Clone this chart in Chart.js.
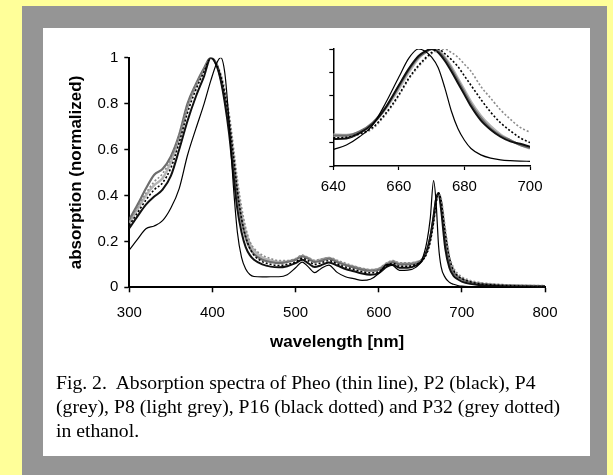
<!DOCTYPE html>
<html>
<head>
<meta charset="utf-8">
<script src="https://cdn.jsdelivr.net/npm/chart.js@4.4.1/dist/chart.umd.min.js"></script>
<style>
html, body { margin: 0; padding: 0; }
body { width: 613px; height: 475px; background: #ffff99; position: relative; overflow: hidden; }
#grey { position: absolute; left: 22px; top: 6px; width: 585px; height: 469px; background: #959595; }
#white { position: absolute; left: 43px; top: 28px; width: 547px; height: 428px; background: #ffffff; }
canvas { position: absolute; left: 0; top: 0; }
#caption { position: absolute; left: 56px; top: 370px; white-space: nowrap;
  font-family: "Liberation Serif", "Times New Roman", serif; font-size: 19.7px; line-height: 24px; color: #000; }
</style>
</head>
<body>
<div id="grey"></div>
<div id="white"></div>
<canvas id="mainChart" width="613" height="475"></canvas>
<canvas id="insetChart" width="613" height="475"></canvas>
<div id="caption">Fig. 2.&nbsp; Absorption spectra of Pheo (thin line), P2 (black), P4<br>(grey), P8 (light grey), P16 (black dotted) and P32 (grey dotted)<br>in ethanol.</div>

<script>
// main spectrum, wavelength in nm
const wavelengths = [300, 310, 320, 330, 340, 350, 360, 370, 380, 390,
  398, 405, 410, 415, 420, 425, 430, 435, 440, 445,
  450, 460, 470, 480, 490, 500, 508, 515, 523, 530,
  540, 550, 560, 570, 580, 590, 600, 610, 617, 625,
  635, 645, 652, 658, 662, 666, 669, 672, 675, 680,
  685, 690, 695, 700, 710, 720, 740, 760, 780, 800];

const pheo = [.163, .21, .255, .267, .29, .345, .43, .575, .69, .8,
  .9, .975, 1.0, .93, .72, .45, .24, .13, .08, .056,
  .047, .045, .046, .046, .055, .085, .11, .09, .064, .08,
  .097, .065, .046, .038, .03, .035, .06, .1, .095, .074,
  .075, .088, .12, .2, .3, .465, .37, .18, .09, .042,
  .022, .013, .008, .005, .003, .002, .001, 0, 0, 0];

const p2 = [.257, .31, .36, .395, .425, .485, .6, .725, .83, .92,
  1.0, .965, .9, .8, .67, .5, .34, .24, .175, .14,
  .12, .1, .09, .087, .092, .105, .12, .105, .088, .095,
  .108, .095, .08, .07, .06, .055, .062, .09, .098, .085,
  .085, .095, .115, .16, .22, .31, .385, .41, .34, .17,
  .085, .05, .035, .025, .015, .01, .006, .004, .003, .003];

const p4 = [.295, .36, .43, .49, .515, .57, .665, .8, .885, .955,
  1.0, .97, .91, .82, .7, .55, .4, .29, .215, .17,
  .145, .12, .11, .105, .11, .12, .135, .125, .11, .115,
  .125, .11, .097, .087, .077, .072, .077, .1, .11, .1,
  .1, .105, .12, .16, .215, .3, .38, .41, .36, .2,
  .105, .065, .045, .035, .022, .016, .01, .007, .006, .005];

const p8 = [.28, .34, .4, .445, .475, .545, .645, .78, .875, .95,
  1.0, .97, .915, .83, .72, .58, .43, .32, .24, .19,
  .16, .13, .117, .11, .113, .122, .137, .128, .114, .12,
  .128, .113, .1, .09, .08, .075, .08, .104, .114, .104,
  .104, .11, .12, .155, .21, .3, .38, .41, .365, .21,
  .11, .068, .048, .037, .024, .017, .011, .008, .006, .005];

const p16 = [.27, .325, .38, .425, .455, .52, .63, .76, .86, .94,
  1.0, .97, .92, .84, .73, .58, .42, .3, .22, .17,
  .14, .112, .1, .095, .1, .11, .126, .116, .1, .106,
  .116, .102, .088, .078, .068, .063, .068, .094, .104, .092,
  .092, .1, .115, .15, .2, .285, .37, .41, .38, .24,
  .13, .075, .05, .038, .024, .016, .01, .007, .005, .004];

const p32 = [.285, .35, .41, .46, .495, .56, .66, .79, .88, .95,
  1.0, .975, .93, .86, .76, .62, .47, .35, .26, .2,
  .17, .14, .125, .116, .116, .125, .14, .13, .118, .122,
  .13, .118, .105, .093, .083, .077, .082, .107, .117, .107,
  .107, .108, .12, .15, .2, .28, .36, .405, .39, .26,
  .14, .085, .06, .045, .03, .022, .014, .01, .008, .007];

// inset: Q band, normalized to its own maximum
const insetWavelengths = [640, 644, 648, 652, 656, 660, 663, 666, 668, 670, 672,
  674, 676, 678, 680, 682, 685, 688, 691, 694, 697, 700];
const insetPheo = [.14, .18, .25, .35, .54, .76, .92, 1.0, .98, .93, .84,
  .67, .47, .32, .22, .15, .095, .067, .053, .046, .042, .04];
const insetP2 = [.23, .235, .28, .36, .5, .69, .83, .94, .98, 1.0, .97,
  .9, .81, .71, .61, .51, .39, .31, .25, .21, .19, .165];
const insetP4 = [.26, .26, .295, .37, .5, .68, .82, .93, .97, 1.0, .98,
  .92, .83, .73, .63, .53, .41, .32, .26, .22, .18, .155];
const insetP8 = [.27, .265, .29, .36, .49, .66, .8, .92, .97, 1.0, .99,
  .93, .85, .75, .65, .55, .43, .34, .27, .22, .18, .15];
const insetP16 = [.24, .245, .275, .33, .45, .61, .75, .86, .92, .97, 1.0,
  .96, .91, .85, .77, .69, .57, .46, .37, .3, .24, .2];
const insetP32 = [.25, .25, .27, .32, .44, .6, .74, .85, .91, .96, .99,
  1.0, .97, .93, .87, .81, .68, .58, .48, .4, .33, .29];

const xTicks = [300, 400, 500, 600, 700, 800];
const insetXTicks = [640, 660, 680, 700];

// looks of each sample (first one is drawn on top)
const styles = [
  { label: 'Pheo', color: '#000000', width: 1.2, dash: [] },
  { label: 'P16', color: '#000000', width: 1.6, dash: [2, 2] },
  { label: 'P32', color: '#8c8c8c', width: 1.6, dash: [2, 2] },
  { label: 'P2', color: '#111111', width: 2, dash: [] },
  { label: 'P4', color: '#6e6e6e', width: 2.2, dash: [] },
  { label: 'P8', color: '#b4b4b4', width: 2.4, dash: [] }
];

function toPoints(xs, ys) {
  return xs.map((x, i) => ({ x: x, y: ys[i] }));
}

function makeDatasets(xs, series) {
  return series.map((ys, i) => ({
    label: styles[i].label,
    data: toPoints(xs, ys),
    borderColor: styles[i].color,
    borderWidth: styles[i].width,
    borderDash: styles[i].dash,
    pointRadius: 0,
    fill: false,
    cubicInterpolationMode: 'monotone'
  }));
}

const tickFont = { family: '"Liberation Sans", Arial, sans-serif', size: 15 };
const titleFont = { family: '"Liberation Sans", Arial, sans-serif', size: 17, weight: 'bold' };

Chart.defaults.color = '#000';
Chart.defaults.animation = false;

new Chart(document.getElementById('mainChart'), {
  type: 'line',
  data: {
    datasets: makeDatasets(wavelengths, [pheo, p16, p32, p2, p4, p8])
  },
  options: {
    responsive: false,
    devicePixelRatio: 1,
    layout: { padding: { left: 55.3, top: 57.7, right: 68, bottom: 117.7 } },
    plugins: { legend: { display: false }, tooltip: { enabled: false } },
    scales: {
      x: {
        type: 'linear', min: 300, max: 800,
        afterBuildTicks: s => { s.ticks = xTicks.map(v => ({ value: v })); },
        afterFit: s => { s.height = 70; },
        grid: { drawOnChartArea: false, tickLength: 5, tickColor: '#000', tickWidth: 1.5 },
        border: { color: '#000', width: 2 },
        ticks: { font: tickFont, padding: 12, maxRotation: 0 },
        title: { display: true, text: 'wavelength [nm]', font: titleFont, padding: { top: 0, bottom: 5 } }
      },
      y: {
        min: 0, max: 1,
        afterFit: s => { s.width = 74; },
        grid: { drawOnChartArea: false, tickLength: 5, tickColor: '#000', tickWidth: 1.5 },
        border: { color: '#000', width: 2 },
        ticks: { font: tickFont, stepSize: 0.2, padding: 6, callback: v => String(Math.round(v * 10) / 10) },
        title: { display: true, text: 'absorption (normalized)', font: titleFont, padding: { top: 10.5, bottom: 0 } }
      }
    }
  }
});

new Chart(document.getElementById('insetChart'), {
  type: 'line',
  data: {
    datasets: makeDatasets(insetWavelengths, [insetPheo, insetP16, insetP32, insetP2, insetP4, insetP8])
  },
  options: {
    responsive: false,
    devicePixelRatio: 1,
    layout: { padding: { left: 328.3, top: 49, right: 83, bottom: 279 } },
    plugins: { legend: { display: false }, tooltip: { enabled: false } },
    scales: {
      x: {
        type: 'linear', min: 640, max: 700,
        afterBuildTicks: s => { s.ticks = insetXTicks.map(v => ({ value: v })); },
        afterFit: s => { s.height = 30; },
        grid: { drawOnChartArea: false, tickLength: 4, tickColor: '#000', tickWidth: 1.2 },
        border: { color: '#000', width: 1.5 },
        ticks: { font: tickFont, padding: 8, maxRotation: 0 }
      },
      y: {
        min: 0, max: 1,
        afterFit: s => { s.width = 5; },
        grid: { drawOnChartArea: false, tickLength: 4, tickColor: '#000', tickWidth: 1.2 },
        border: { color: '#000', width: 1.5 },
        ticks: { display: false, stepSize: 0.2 }
      }
    }
  }
});
</script>
</body>
</html>
